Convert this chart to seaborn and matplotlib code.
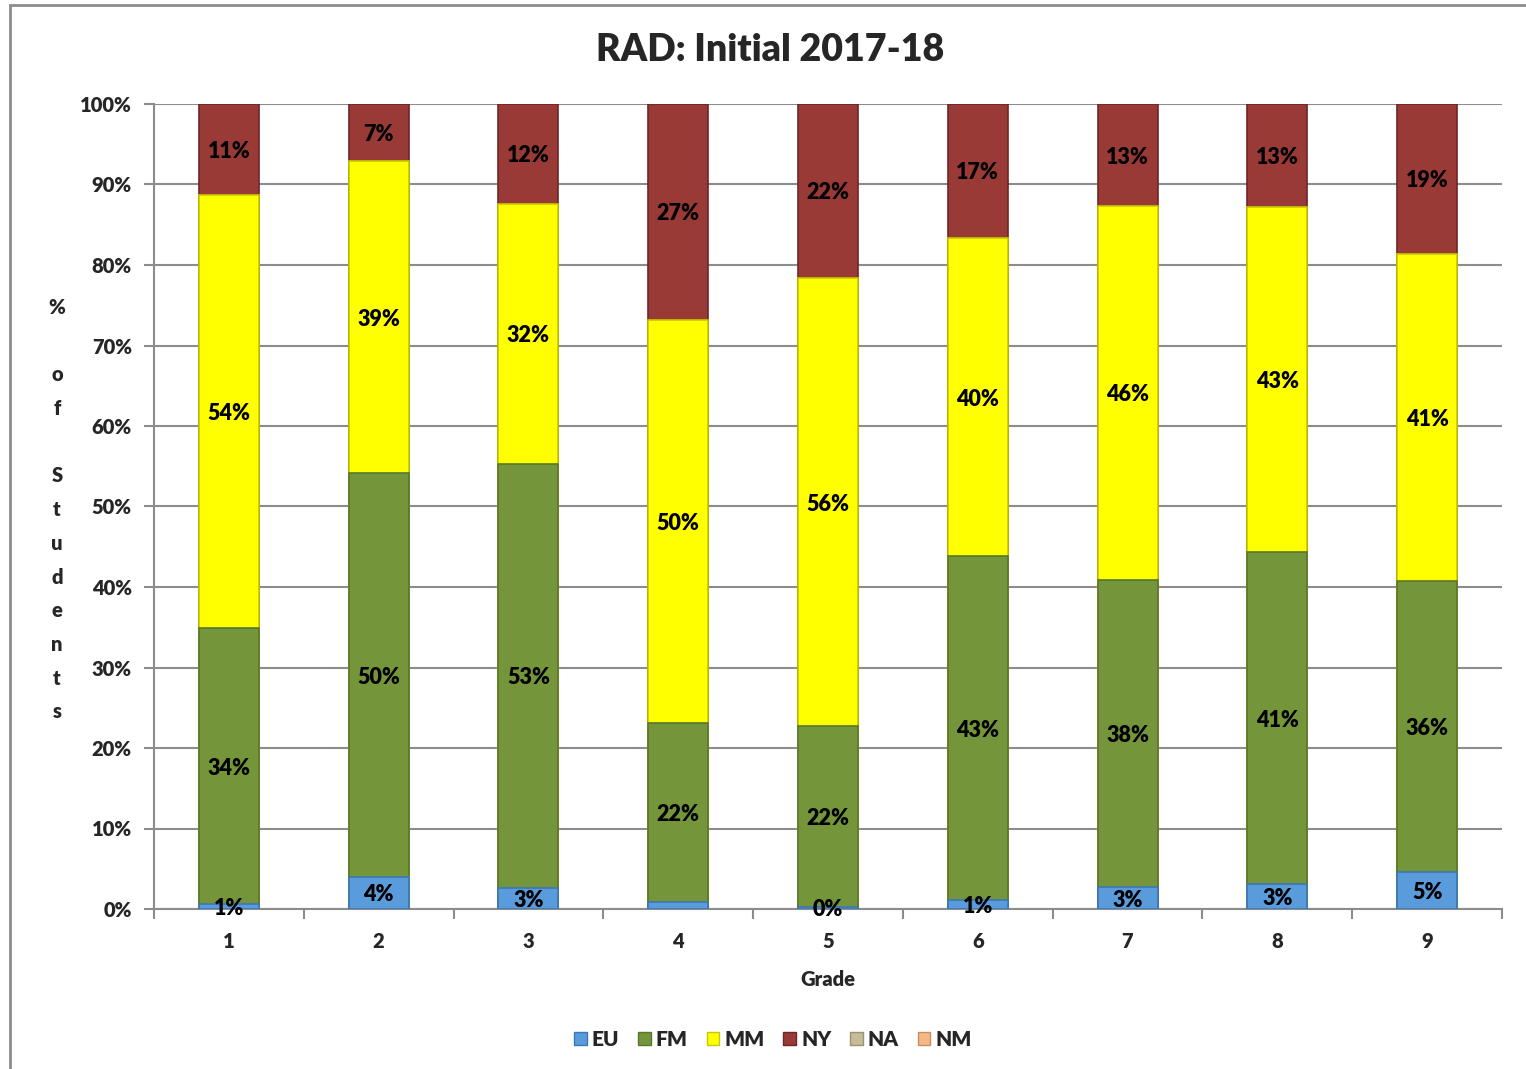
import numpy as np
import pandas as pd
import matplotlib
matplotlib.use("Agg")
import matplotlib.pyplot as plt
from matplotlib.patches import Patch, Rectangle
import seaborn as sns

# Share of students per performance level, by grade (percent)
grades = ["1", "2", "3", "4", "5", "6", "7", "8", "9"]
eu = [0.6, 4.0, 2.6, 0.9, 0.3, 1.1, 2.7, 3.1, 4.6]
fm = [34.3, 50.1, 52.7, 22.2, 22.4, 42.7, 38.2, 41.2, 36.1]
mm = [53.8, 38.8, 32.3, 50.1, 55.7, 39.6, 46.4, 42.9, 40.7]
ny = [11.3, 7.1, 12.4, 26.8, 21.6, 16.6, 12.7, 12.8, 18.6]
na = [0, 0, 0, 0, 0, 0, 0, 0, 0]
nm = [0, 0, 0, 0, 0, 0, 0, 0, 0]
# EU label left off for grade 4
eu_label_shown = [True, True, True, False, True, True, True, True, True]

levels = ["EU", "FM", "MM", "NY", "NA", "NM"]
colors = {"EU": "#5A9BDC", "FM": "#74953A", "MM": "#FFFF00",
          "NY": "#9A3A37", "NA": "#C4BD97", "NM": "#F4B886"}
edges = {"EU": "#3C78B4", "FM": "#58782A", "MM": "#C8C800",
         "NY": "#6E2624", "NA": "#9A9270", "NM": "#C98E5E"}

df = pd.DataFrame({"Grade": grades, "EU": eu, "FM": fm, "MM": mm,
                   "NY": ny, "NA": na, "NM": nm})
stack = ["EU", "FM", "MM", "NY"]
cum = df[stack].cumsum(axis=1)

sns.set_style("white")
font = ["Lato", "DejaVu Sans"]
plt.rcParams["font.family"] = font
plt.rcParams["font.weight"] = "bold"

W, H = 1526, 1069
fig = plt.figure(figsize=(W / 100, H / 100), dpi=100)
ax = fig.add_axes([154 / W, 1 - 909 / H, (1502 - 154) / W, (909 - 104) / H])

# Cumulative bars drawn from the tallest down give the stacked look
for lvl in reversed(stack):
    sns.barplot(data=df.assign(total=cum[lvl]), x="Grade", y="total",
                color=colors[lvl], saturation=1, width=0.4, errorbar=None,
                edgecolor=edges[lvl], linewidth=1.2, ax=ax, zorder=3)

# Segment labels at each segment's midpoint
for i in range(len(grades)):
    base = 0.0
    for lvl in stack:
        v = df[lvl].iloc[i]
        if not (lvl == "EU" and not eu_label_shown[i]):
            ax.text(i, base + v / 2, f"{round(v):.0f}%", ha="center",
                    va="center_baseline", fontsize=15.5, fontweight="heavy",
                    color="black", zorder=5, family=font)
        base += v

ax.set_xlim(-0.5, len(grades) - 0.5)
ax.set_ylim(0, 100)
ax.set_yticks(np.arange(0, 101, 10))
ax.set_yticklabels([f"{t}%" for t in range(0, 101, 10)])
ax.yaxis.grid(True, color="#8C8C8C", linewidth=1.5, zorder=0)
ax.set_axisbelow(True)
ax.set_xlabel("Grade", fontsize=14.5, fontweight="heavy", labelpad=14)
ax.set_ylabel("")

for s in ["top", "right"]:
    ax.spines[s].set_visible(False)
for s in ["left", "bottom"]:
    ax.spines[s].set_color("#8C8C8C")
    ax.spines[s].set_linewidth(1.5)

ax.tick_params(axis="y", which="major", left=True, length=7, width=1.5,
               color="#8C8C8C", labelsize=14.5, pad=9)
ax.tick_params(axis="x", which="major", bottom=False, labelsize=14.5, pad=13)
ax.set_xticks(np.arange(-0.5, len(grades) + 0.5, 1.0), minor=True)
ax.tick_params(axis="x", which="minor", bottom=True, length=7, width=1.5,
               color="#8C8C8C")
for lab in ax.get_xticklabels() + ax.get_yticklabels():
    lab.set_fontweight("heavy")

fig.text(0.5046, 1 - 50 / H, "RAD: Initial 2017-18", ha="center", va="center",
         fontsize=27, fontweight="heavy")

# Vertical axis title, one character per line
ylab = ["%", "", "o", "f", "", "S", "t", "u", "d", "e", "n", "t", "s"]
for k, ch in enumerate(ylab):
    if ch:
        fig.text(57 / W, 1 - (307 + 33.75 * k) / H, ch, ha="center",
                 va="center", fontsize=14.5, fontweight="heavy")

handles = [Patch(facecolor=colors[l], edgecolor=edges[l], label=l)
           for l in levels]
fig.legend(handles=handles, loc="center", bbox_to_anchor=(773 / W, 1 - 1039 / H),
           ncol=6, frameon=False, handlelength=0.6, handleheight=0.6,
           handletextpad=0.25, columnspacing=0.9,
           prop={"weight": "heavy", "size": 15})

# Outer chart frame
fig.patches.append(Rectangle((10 / W, -0.05), 1.2, 1 - 5 / H + 0.05,
                             transform=fig.transFigure, fill=False,
                             edgecolor="#8C8C8C", linewidth=2))

fig.savefig("out.png", dpi=100, facecolor="white")
